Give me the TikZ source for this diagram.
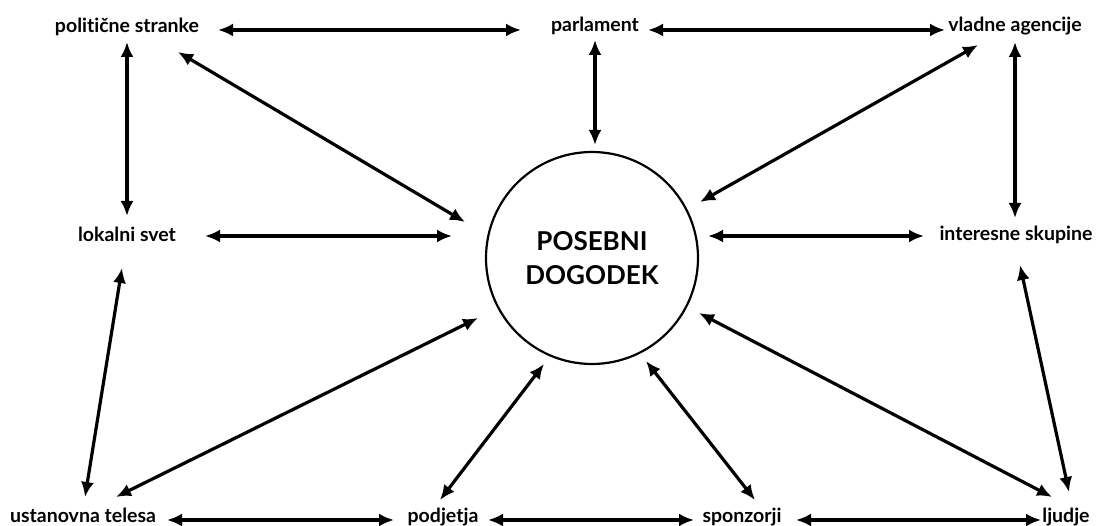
\documentclass[tikz,border=0pt]{standalone}
\usepackage{fontspec}
\setmainfont[Ligatures={NoCommon,NoContextual}]{Lato}
\usetikzlibrary{arrows.meta,calc}
\begin{document}
\begin{tikzpicture}[x=1pt,y=1pt,
  lbl/.style={anchor=base,inner sep=0pt,font=\bfseries\fontsize{19.5}{21}\selectfont},
  arr/.style={line width=3.2pt,{Latex[length=15pt,width=13pt]}-{Latex[length=15pt,width=13pt]}},
  evt/.style={draw,circle,line width=2.2pt,minimum size=212pt,inner sep=0pt,align=center,
    font=\bfseries\fontsize{26}{34}\selectfont}]
\fill[white] (0,0) rectangle (1097,526);
\useasboundingbox (0,0) rectangle (1097,526);
\node[lbl] (ps) at (127,493) {politične stranke};
\node[lbl] (pa) at (595,494) {parlament};
\node[lbl] (va) at (1015,494) {vladne agencije};
\node[lbl] (ls) at (127,284) {lokalni svet};
\node[lbl] (is) at (1016,285) {interesne skupine};
\node[lbl] (ut) at (83,3) {ustanovna telesa};
\node[lbl] (po) at (443,3) {podjetja};
\node[lbl] (sp) at (742,3) {sponzorji};
\node[lbl] (lj) at (1066,3) {ljudje};
\node[evt] (ev) at (592,268) {POSEBNI\\DOGODEK};
\draw[arr] ($(ps.base)+(91,3)$) -- ($(pa.base)+(-74,2)$);
\draw[arr] ($(pa.base)+(53,2)$) -- ($(va.base)+(-70,2)$);
\draw[arr] ($(pa.base)+(0,-8)$) -- ($(ev.center)+(3,113)$);
\draw[arr] ($(ps.base)+(0,-9)$) -- ($(ls.base)+(0,26)$);
\draw[arr] ($(ps.base)+(51,-19)$) -- ($(ev.center)+(-127,36)$);
\draw[arr] ($(va.base)+(-37,-13)$) -- ($(ev.center)+(108,56)$);
\draw[arr] ($(va.base)+(0,-10)$) -- ($(is.base)+(-1,23)$);
\draw[arr] ($(ls.base)+(78,6)$) -- ($(ev.center)+(-140,22)$);
\draw[arr] ($(is.base)+(-92,5)$) -- ($(ev.center)+(116,22)$);
\draw[arr] ($(ls.base)+(-5,-26)$) -- ($(ut.base)+(2,26)$);
\draw[arr] ($(ut.base)+(33,26)$) -- ($(ev.center)+(-114,-60)$);
\draw[arr] ($(ut.base)+(84,3)$) -- ($(po.base)+(-49,3)$);
\draw[arr] ($(po.base)+(-3,23)$) -- ($(ev.center)+(-48,-106)$);
\draw[arr] ($(po.base)+(45,3)$) -- ($(sp.base)+(-48,3)$);
\draw[arr] ($(sp.base)+(13,23)$) -- ($(ev.center)+(54,-103)$);
\draw[arr] ($(sp.base)+(54,3)$) -- ($(lj.base)+(-25,3)$);
\draw[arr] ($(lj.base)+(-14,26)$) -- ($(ev.center)+(107,-55)$);
\draw[arr] ($(lj.base)+(3,31)$) -- ($(is.base)+(4,-24)$);
\end{tikzpicture}
\end{document}
